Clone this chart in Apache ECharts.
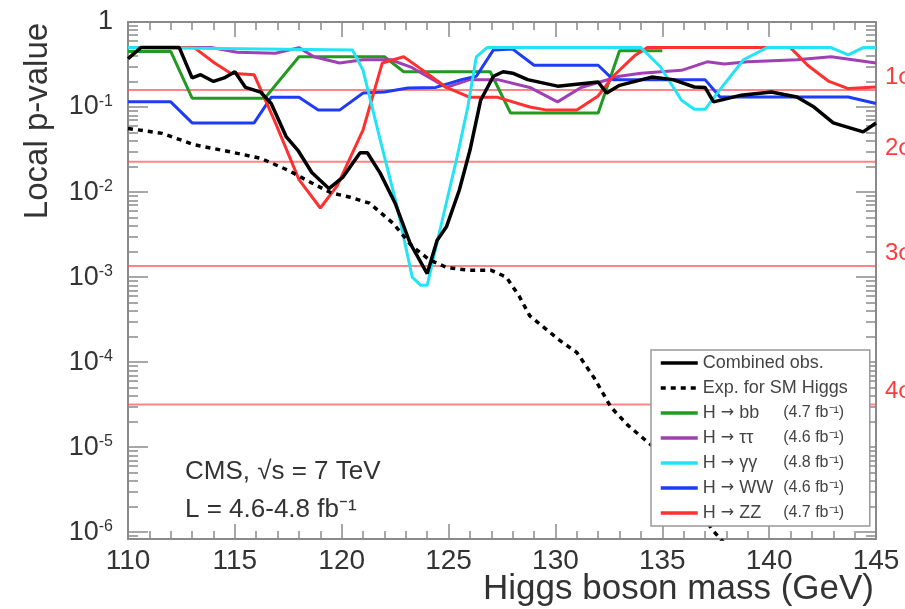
<!DOCTYPE html>
<html lang="en">
<head>
<meta charset="UTF-8">
<title>Local p-value</title>
<script src="https://cdn.jsdelivr.net/npm/echarts@6/dist/echarts.min.js"></script>
<style>
  html, body { margin: 0; padding: 0; background: #fff; }
  #main { width: 905px; height: 609px; }
</style>
</head>
<body>
<div id="main"></div>
<script>
// ---- data ----
var combMass = [110, 110.6, 112.4, 113, 113.4, 114, 114.5, 115, 115.5, 116.2, 116.7, 117.4, 117.95, 118.6, 119.4, 120.06, 120.86, 121.2, 121.8, 122.5, 123.2, 124, 124.46, 124.9, 125.5, 126, 126.5, 127.1, 127.55, 128, 128.7, 130.1, 132, 132.4, 133, 134.5, 135.5, 136.5, 137, 137.4, 138.7, 140.1, 141.3, 142.1, 143, 144.4, 145];
var combP = [0.37, 0.5, 0.5, 0.22, 0.24, 0.2, 0.22, 0.26, 0.17, 0.15, 0.11, 0.045, 0.031, 0.017, 0.011, 0.015, 0.029, 0.029, 0.0167, 0.0074, 0.0025, 0.0011, 0.0027, 0.0039, 0.0105, 0.031, 0.12, 0.23, 0.26, 0.25, 0.21, 0.176, 0.197, 0.146, 0.18, 0.225, 0.21, 0.172, 0.17, 0.115, 0.138, 0.15, 0.131, 0.1, 0.065, 0.051, 0.065];

var expMass = [110, 111.6, 113.1, 114.7, 116.2, 117.5, 118.6, 119.5, 120.4, 121.3, 122.4, 123.3, 124.1, 124.9, 126, 127, 127.7, 128.3, 128.8, 129.2, 130.2, 131, 131.8, 132.6, 133.4, 134.5, 135.5, 136.5, 137.3, 138.5];
var expP = [0.056, 0.049, 0.036, 0.03, 0.025, 0.018, 0.0128, 0.0098, 0.0087, 0.0074, 0.0043, 0.0023, 0.0016, 0.0013, 0.0012, 0.0012, 0.001, 0.0006, 0.00035, 0.00029, 0.00018, 0.00013, 0.000066, 0.0000295, 0.000018, 0.0000105, 0.0000055, 0.0000024, 0.0000011, 0.0000005];

var bbMass = [110, 112, 113, 116.4, 118, 122, 122.9, 126.95, 127.9, 132, 133, 135];
var bbP = [0.45, 0.45, 0.127, 0.127, 0.39, 0.39, 0.26, 0.26, 0.085, 0.085, 0.46, 0.46];

var ttMass = [110, 113.9, 115.1, 116.9, 118, 118.7, 119.9, 121, 122.3, 123.3, 124.9, 126, 127.3, 128.8, 130.1, 131.2, 133, 134, 135.9, 137.1, 137.9, 139, 141.3, 142.9, 145];
var ttP = [0.5, 0.5, 0.44, 0.43, 0.5, 0.39, 0.33, 0.36, 0.36, 0.29, 0.17, 0.21, 0.21, 0.17, 0.115, 0.17, 0.23, 0.25, 0.27, 0.34, 0.32, 0.34, 0.36, 0.39, 0.33];

var ggMass = [110, 120.5, 121, 121.8, 122.6, 123.3, 123.7, 124, 124.6, 125.4, 125.9, 126.3, 126.8, 134, 134.9, 135.9, 136.5, 137, 137.7, 138.8, 139.9, 142.9, 143.7, 144.4, 145];
var ggP = [0.5, 0.47, 0.27, 0.041, 0.0066, 0.001, 0.0008, 0.0008, 0.0036, 0.026, 0.1, 0.39, 0.5, 0.5, 0.3, 0.12, 0.094, 0.094, 0.16, 0.36, 0.5, 0.5, 0.41, 0.5, 0.5];

var wwMass = [110, 112, 113, 115.9, 116.7, 118, 118.9, 119.9, 121, 122, 123.1, 124.4, 125.6, 126.3, 127.1, 128, 129, 132, 132.7, 137, 137.7, 143.7, 145];
var wwP = [0.115, 0.115, 0.065, 0.065, 0.13, 0.13, 0.092, 0.092, 0.146, 0.15, 0.167, 0.17, 0.21, 0.23, 0.47, 0.48, 0.31, 0.31, 0.21, 0.21, 0.131, 0.131, 0.11];

var zzMass = [110, 113.1, 114.05, 114.8, 115.9, 116.9, 118, 119, 119.8, 121, 121.9, 122.9, 123.8, 124.9, 126, 127.3, 128.8, 129.6, 131, 132, 132.7, 133.7, 134.3, 141, 141.8, 142.8, 143.7, 145];
var zzP = [0.5, 0.5, 0.33, 0.25, 0.24, 0.065, 0.014, 0.0065, 0.012, 0.054, 0.33, 0.39, 0.27, 0.17, 0.13, 0.13, 0.1, 0.092, 0.092, 0.135, 0.23, 0.4, 0.5, 0.5, 0.31, 0.2, 0.165, 0.172];

var seriesNames = ['Combined obs.', 'Exp. for SM Higgs', 'H \u2192 bb', 'H \u2192 \u03c4\u03c4', 'H \u2192 \u03b3\u03b3', 'H \u2192 WW', 'H \u2192 ZZ'];
var seriesLumi = [null, null, '4.7', '4.6', '4.8', '4.6', '4.7'];
var seriesColors = ['#000000', '#000000', '#229a22', '#a040b4', '#22e4f4', '#1e3cf5', '#ff3030'];

var sigmaNames = ['1\u03c3', '2\u03c3', '3\u03c3', '4\u03c3'];
var sigmaP = [0.1587, 0.02275, 0.00135, 0.0000317];

var xTicks = [110, 145, 5];   // min, max, step
var yMin = Math.pow(10, -6.08);
var yMax = 1;
var yMajor = [1e-6, 1e-5, 1e-4, 1e-3, 1e-2, 1e-1, 1];

// minor ticks 2..9 of every decade
var yMinor = [];
for (var e = -7; e < 0; e++) {
    for (var k = 2; k <= 9; k++) {
        var v = k * Math.pow(10, e);
        if (v >= yMin) yMinor.push(v);
    }
}

function pairs(xs, ys) {
    return xs.map(function (x, i) { return [x, ys[i]]; });
}

var FONT = '"Liberation Sans", Arial, Helvetica, sans-serif';
var AXIS_GRAY = '#8a8a8a';

var myChart = echarts.init(document.getElementById('main'));

function yAxisCfg(pos, major, showLabel) {
    var ticks = major ? yMajor : yMinor;
    return {
        type: 'log',
        logBase: 10,
        min: yMin,
        max: yMax,
        position: pos,
        axisLine: { show: major, lineStyle: { color: AXIS_GRAY, width: 2 } },
        axisTick: { show: true, inside: true, length: major ? 20 : 10, customValues: ticks, lineStyle: { color: AXIS_GRAY, width: 1.5 } },
        splitLine: { show: false },
        axisLabel: {
            show: showLabel,
            customValues: yMajor,
            margin: 15,
            fontFamily: FONT,
            color: '#333',
            formatter: function (v) {
                var n = Math.round(Math.log10(v));
                if (n === 0) return '{b|1}';
                return '{b|10}{s|' + n + '}';
            },
            rich: {
                b: { fontSize: 27, fontFamily: FONT, color: '#333' },
                s: { fontSize: 16, fontFamily: FONT, color: '#333', verticalAlign: 'top' }
            }
        }
    };
}

function xAxisCfg(pos, showLabel) {
    return {
        type: 'value',
        min: xTicks[0],
        max: xTicks[1],
        interval: xTicks[2],
        position: pos,
        axisLine: { show: true, lineStyle: { color: AXIS_GRAY, width: 2 } },
        axisTick: { show: true, inside: true, length: 15, lineStyle: { color: AXIS_GRAY, width: 1.5 } },
        minorTick: { show: true, splitNumber: 5, length: 8, lineStyle: { color: AXIS_GRAY, width: 1.5 } },
        splitLine: { show: false },
        axisLabel: { show: showLabel, fontSize: 28, fontFamily: FONT, color: '#333', margin: 8 }
    };
}

var dataSets = [
    pairs(combMass, combP),
    pairs(expMass, expP),
    pairs(bbMass, bbP),
    pairs(ttMass, ttP),
    pairs(ggMass, ggP),
    pairs(wwMass, wwP),
    pairs(zzMass, zzP)
];
var zOrder = [9, 8, 3, 4, 7, 5, 6];

var series = [];

// horizontal n-sigma reference lines
sigmaP.forEach(function (p, i) {
    series.push({
        name: sigmaNames[i],
        type: 'line',
        data: [[xTicks[0], p], [xTicks[1], p]],
        symbol: 'none',
        silent: true,
        z: 1,
        lineStyle: { color: 'rgba(255,80,80,0.7)', width: 2 },
        endLabel: {
            show: true,
            formatter: sigmaNames[i],
            color: '#ff3b3b',
            fontSize: 24,
            fontFamily: FONT,
            distance: 9,
            offset: [0, -13]
        }
    });
});

dataSets.forEach(function (d, i) {
    series.push({
        name: seriesNames[i],
        type: 'line',
        data: d,
        symbol: 'none',
        z: zOrder[i],
        color: seriesColors[i],
        lineStyle: i === 1
            ? { color: seriesColors[i], width: 3.5, type: [5, 5] }
            : { color: seriesColors[i], width: i === 0 ? 3.5 : 3 }
    });
});

function legendName(name) {
    var i = seriesNames.indexOf(name);
    if (!seriesLumi[i]) return name;
    var rest = name.split('\u2192')[1];
    return '{h|H }{a|\u2192}{r|' + rest + '}{l|(' + seriesLumi[i] + ' fb\u207b\u00b9)}';
}

var option = {
    backgroundColor: '#ffffff',
    animation: false,
    grid: { left: 128, right: 29, top: 22, bottom: 70, containLabel: false, outerBoundsMode: 'none' },
    xAxis: [xAxisCfg('bottom', true), xAxisCfg('top', false)],
    yAxis: [
        yAxisCfg('left', true, true),
        yAxisCfg('left', false, false),
        yAxisCfg('right', true, false),
        yAxisCfg('right', false, false)
    ],
    legend: {
        data: seriesNames,
        orient: 'vertical',
        left: 651,
        top: 350,
        padding: [4, 22, 4, 8],
        itemGap: 7,
        itemWidth: 37,
        itemHeight: 14,
        backgroundColor: '#ffffff',
        borderColor: '#999',
        borderWidth: 1.5,
        borderRadius: 0,
        z: 20,
        selectedMode: false,
        itemStyle: { opacity: 0 },
        lineStyle: { width: 3.5 },
        textStyle: {
            fontSize: 18,
            lineHeight: 18,
            fontFamily: FONT,
            color: '#444',
            rich: {
                h: { fontSize: 18, fontFamily: FONT, color: '#444' },
                a: { fontSize: 16, fontFamily: '"DejaVu Sans", sans-serif', color: '#444' },
                r: { fontSize: 18, fontFamily: FONT, color: '#444', width: 49 },
                l: { fontSize: 16, fontFamily: FONT, color: '#444' }
            }
        },
        formatter: legendName
    },
    graphic: [
        {
            type: 'text',
            x: 38,
            y: 121,
            rotation: Math.PI / 2,
            style: { text: 'Local p-value', fontSize: 33, fontFamily: FONT, fill: '#333', align: 'center', verticalAlign: 'middle' }
        },
        {
            type: 'text',
            right: 31,
            top: 572,
            style: { text: 'Higgs boson mass (GeV)', fontSize: 35, fontFamily: FONT, fill: '#333' }
        },
        {
            type: 'text',
            left: 185,
            top: 459,
            style: { text: 'CMS, \u221As = 7 TeV', fontSize: 26, fontFamily: FONT, fill: '#333' }
        },
        {
            type: 'text',
            left: 185,
            top: 497,
            style: { text: 'L = 4.6-4.8 fb\u207b\u00b9', fontSize: 26, fontFamily: FONT, fill: '#333' }
        }
    ],
    series: series
};

myChart.setOption(option);
</script>
</body>
</html>
